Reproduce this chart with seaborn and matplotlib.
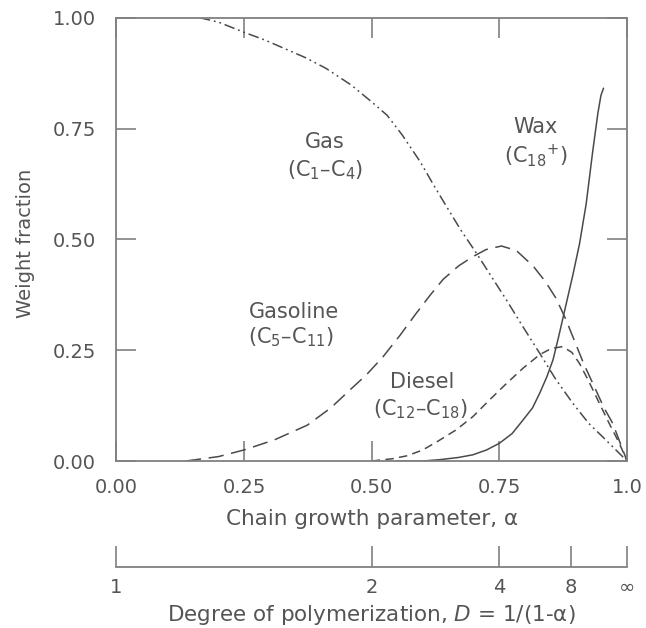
import numpy as np
import pandas as pd
import matplotlib
matplotlib.use("Agg")
import matplotlib.pyplot as plt
import seaborn as sns

# ---- data ----
gas_a = [0.163, 0.20, 0.25, 0.29, 0.33, 0.37, 0.41, 0.46, 0.50, 0.53, 0.56, 0.595, 0.62, 0.646,
         0.675, 0.705, 0.735, 0.764, 0.795, 0.829, 0.86, 0.894, 0.925, 0.959, 1.0]
gas_w = [1.00, 0.99, 0.967, 0.95, 0.93, 0.91, 0.886, 0.848, 0.81, 0.78, 0.735, 0.675, 0.625, 0.575,
         0.52, 0.469, 0.415, 0.363, 0.305, 0.243, 0.185, 0.13, 0.085, 0.047, 0.0]

gasoline_a = [0.136, 0.20, 0.25, 0.31, 0.374, 0.42, 0.457, 0.49, 0.522, 0.555, 0.587, 0.615, 0.64,
              0.67, 0.698, 0.724, 0.754, 0.783, 0.816, 0.84, 0.861, 0.88, 0.894, 0.915, 0.933,
              0.955, 0.972, 1.0]
gasoline_w = [0.0, 0.01, 0.025, 0.048, 0.081, 0.12, 0.16, 0.195, 0.235, 0.283, 0.333, 0.375, 0.41,
              0.44, 0.461, 0.477, 0.485, 0.475, 0.44, 0.405, 0.367, 0.32, 0.28, 0.22, 0.175,
              0.12, 0.085, 0.0]

diesel_a = [0.50, 0.54, 0.57, 0.60, 0.63, 0.665, 0.698, 0.73, 0.764, 0.797, 0.829, 0.852, 0.874,
            0.892, 0.907, 0.925, 0.946, 0.965, 0.985, 1.0]
diesel_w = [0.0, 0.005, 0.012, 0.025, 0.045, 0.07, 0.10, 0.137, 0.175, 0.21, 0.24, 0.254, 0.258,
            0.245, 0.22, 0.18, 0.13, 0.085, 0.04, 0.0]

wax_a = [0.55, 0.60, 0.633, 0.67, 0.698, 0.725, 0.75, 0.775, 0.796, 0.815, 0.829, 0.843, 0.855,
         0.866, 0.874, 0.884, 0.894, 0.907, 0.92, 0.933, 0.943, 0.949, 0.954]
wax_w = [0.0, 0.0, 0.003, 0.008, 0.014, 0.025, 0.04, 0.062, 0.092, 0.12, 0.153, 0.19, 0.228,
         0.28, 0.32, 0.37, 0.42, 0.49, 0.58, 0.70, 0.785, 0.825, 0.841]

x_ticks = [0.0, 0.25, 0.5, 0.75, 1.0]
x_ticklabels = ["0.00", "0.25", "0.50", "0.75", "1.0"]
y_ticks = [0.0, 0.25, 0.5, 0.75, 1.0]
y_ticklabels = ["0.00", "0.25", "0.50", "0.75", "1.00"]

dp_pos = [0.0, 0.5, 0.75, 0.89, 1.0]
dp_labels = ["1", "2", "4", "8", "\u221e"]

labels = [
    ("Gas", 0.408, 0.72), ("(C$_1$\u2013C$_4$)", 0.408, 0.656),
    ("Wax", 0.821, 0.753), ("(C$_{18}$$^{+}$)", 0.821, 0.69),
    ("Gasoline", 0.347, 0.336), ("(C$_5$\u2013C$_{11}$)", 0.342, 0.280),
    ("Diesel", 0.598, 0.178), ("(C$_{12}$\u2013C$_{18}$)", 0.596, 0.117),
]

# ---- style ----
sns.set_style("white")
plt.rcParams["font.family"] = ["DejaVu Sans"]
plt.rcParams["mathtext.default"] = "regular"

TXT = "#555555"
LINE = "#4a4a4a"
FRAME = "#808080"

fig = plt.figure(figsize=(6.46, 6.28), dpi=100)
ax = fig.add_axes([0.1803, 0.2659, 0.7903, 0.7059])

def draw(a, w, ls, lw=1.1):
    df = pd.DataFrame({"alpha": a, "w": w})
    sns.lineplot(data=df, x="alpha", y="w", ax=ax, color=LINE, linewidth=lw,
                 linestyle=ls, errorbar=None, sort=True)

draw(gas_a, gas_w, (0, (7, 2.5, 1.2, 2.5, 1.2, 2.5)))
draw(gasoline_a, gasoline_w, (0, (10, 5)))
draw(diesel_a, diesel_w, (0, (5.5, 3.5)))
draw(wax_a, wax_w, "-")

ax.set_xlim(0, 1)
ax.set_ylim(0, 1)
ax.set_xticks(x_ticks)
ax.set_xticklabels(x_ticklabels)
ax.set_yticks(y_ticks)
ax.set_yticklabels(y_ticklabels)
ax.tick_params(axis="both", direction="in", length=14.5, width=1.2, color=FRAME,
               bottom=True, left=True, top=True, right=True,
               labelsize=14, labelcolor=TXT)
ax.tick_params(axis="x", pad=12)
ax.tick_params(axis="y", pad=15)
for s in ax.spines.values():
    s.set_color(FRAME)
    s.set_linewidth(1.3)

ax.set_xlabel("Chain growth parameter, \u03b1", fontsize=15.5, color=TXT)
ax.xaxis.set_label_coords(0.5, -0.108)
ax.set_ylabel("Weight fraction", fontsize=14, color=TXT)
ax.yaxis.set_label_coords(-0.16, 0.49)

for t, x, y in labels:
    ax.text(x, y, t, ha="center", va="center", fontsize=15, color=TXT)

# secondary scale: degree of polymerization
ax2 = fig.add_axes([0.1803, 0.0971, 0.7903, 0.0005])
ax2.set_xlim(0, 1)
ax2.set_yticks([])
for k in ("left", "right", "top"):
    ax2.spines[k].set_visible(False)
ax2.spines["bottom"].set_color(FRAME)
ax2.spines["bottom"].set_linewidth(1.3)
ax2.set_xticks(dp_pos)
ax2.set_xticklabels(dp_labels)
ax2.tick_params(axis="x", direction="in", length=15, width=1.2, color=FRAME,
                bottom=True, labelsize=14, labelcolor=TXT, pad=8)
ax2.set_xlabel("Degree of polymerization, $\\mathit{D}$ = 1/(1-\u03b1)", fontsize=15.5,
               color=TXT, labelpad=4)
ax2.patch.set_visible(False)

fig.savefig("out.png", dpi=100)
